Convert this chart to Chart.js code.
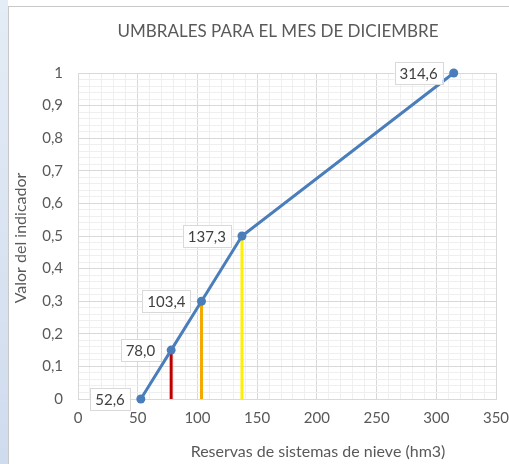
<!DOCTYPE html>
<html><head><meta charset="utf-8">
<script src="https://cdn.jsdelivr.net/npm/chart.js@4/dist/chart.umd.min.js"></script>
<style>
html,body{margin:0;padding:0;background:#fff;overflow:hidden}
#strip{position:absolute;left:0;top:0;width:8px;height:464px;background:linear-gradient(#e4ecf6,#cfdcee)}
#frame{position:absolute;left:8px;top:6px;width:600px;height:600px;border:1px solid #c8c8c8;background:#fff}
#wrap{position:absolute;left:0;top:0;width:509px;height:464px}
</style></head>
<body>
<div id="strip"></div><div id="frame"></div>
<div id="wrap"><canvas id="c" width="509" height="464"></canvas></div>
<script>
const chartTitle = 'UMBRALES PARA EL MES DE DICIEMBRE';
const xTitle = 'Reservas de sistemas de nieve (hm3)';
const yTitle = 'Valor del indicador';
const reservas = [52.6, 78.0, 103.4, 137.3, 314.6];
const indicador = [0, 0.15, 0.3, 0.5, 1];
const umbralX = [78.0, 103.4, 137.3];
const umbralY = [0.15, 0.3, 0.5];
const umbralColors = ['#c00000', '#f2aa00', '#fff000'];

const FONT = 'Lato, "Open Sans", sans-serif';
const TXT = '#595959';

const datasets = [];
umbralX.forEach((x, i) => {
  datasets.push({
    data: [{x: x, y: 0}, {x: x, y: umbralY[i]}],
    borderColor: umbralColors[i], borderWidth: 3, pointRadius: 0,
    showLine: true, order: 2, clip: false
  });
});
datasets.push({
  data: reservas.map((x, i) => ({x: x, y: indicador[i]})),
  borderColor: '#4a7ebb', backgroundColor: '#4a7ebb', borderWidth: 3,
  pointRadius: 4.5, pointBackgroundColor: '#4a7ebb', pointBorderWidth: 0,
  showLine: true, order: 1, clip: false
});

const fmt = v => (Math.round(v * 10) / 10).toFixed(1).replace('.', ',');

const overlay = {
  id: 'overlay',
  afterDatasetsDraw(chart) {
    const ctx = chart.ctx;
    const meta = chart.getDatasetMeta(datasets.length - 1);
    ctx.save();
    ctx.font = '15px ' + FONT;
    ctx.textBaseline = 'middle';
    ctx.textAlign = 'center';
    meta.data.forEach((pt, i) => {
      const t = fmt(reservas[i]);
      const w = ctx.measureText(t).width + 10;
      const h = 22;
      const right = pt.x - 11;
      const left = right - w;
      const top = pt.y - h / 2;
      ctx.fillStyle = '#fff';
      ctx.fillRect(left, top, w, h);
      ctx.strokeStyle = '#d9d9d9';
      ctx.lineWidth = 1;
      ctx.strokeRect(Math.round(left) + 0.5, Math.round(top) + 0.5, Math.round(w), h);
      ctx.fillStyle = '#404040';
      ctx.fillText(t, left + w / 2, pt.y + 1);
    });
    ctx.restore();
  },
  afterDraw(chart) {
    const ctx = chart.ctx;
    ctx.save();
    ctx.fillStyle = TXT;
    ctx.textAlign = 'center';
    ctx.textBaseline = 'middle';
    ctx.font = '17px ' + FONT;
    ctx.fillText(chartTitle, 278, 32);
    ctx.font = '16px ' + FONT;
    ctx.fillText(xTitle, 318, 452);
    ctx.translate(21, 238);
    ctx.rotate(-Math.PI / 2);
    ctx.fillText(yTitle, 0, 0);
    ctx.restore();
  }
};

const gridColor = (ctx, stepMajor) => {
  const v = ctx.tick ? ctx.tick.value : 0;
  const k = Math.round(v / stepMajor * 1000);
  return (k % 1000 === 0) ? '#d9d9d9' : '#efefef';
};

new Chart(document.getElementById('c'), {
  type: 'scatter',
  data: { datasets },
  options: {
    responsive: false, animation: false, devicePixelRatio: 1,
    layout: { padding: { left: 0, top: 73, right: 13, bottom: 0 } },
    plugins: { legend: { display: false }, tooltip: { enabled: false }, title: { display: false } },
    scales: {
      x: {
        type: 'linear', min: 0, max: 350,
        afterFit(s) { s.height = 65; s.paddingLeft = 0; s.paddingRight = 0; },
        border: { color: '#d9d9d9' },
        grid: { drawTicks: false, color: c => gridColor(c, 50) },
        ticks: {
          stepSize: 10, autoSkip: false, maxRotation: 0, padding: 10,
          color: TXT, font: { size: 15, family: FONT },
          callback: v => (Math.round(v) % 50 === 0 ? String(Math.round(v)) : '')
        }
      },
      y: {
        type: 'linear', min: 0, max: 1,
        afterFit(s) { s.width = 78; s.paddingTop = 0; s.paddingBottom = 0; },
        border: { color: '#d9d9d9' },
        grid: { drawTicks: false, color: c => gridColor(c, 0.1) },
        ticks: {
          stepSize: 0.02, autoSkip: false, padding: 15,
          color: TXT, font: { size: 15, family: FONT },
          callback: v => {
            const k = Math.round(v * 100);
            if (k % 10 !== 0) return '';
            return (k / 100).toString().replace('.', ',');
          }
        }
      }
    }
  },
  plugins: [overlay]
});
</script>
</body></html>
